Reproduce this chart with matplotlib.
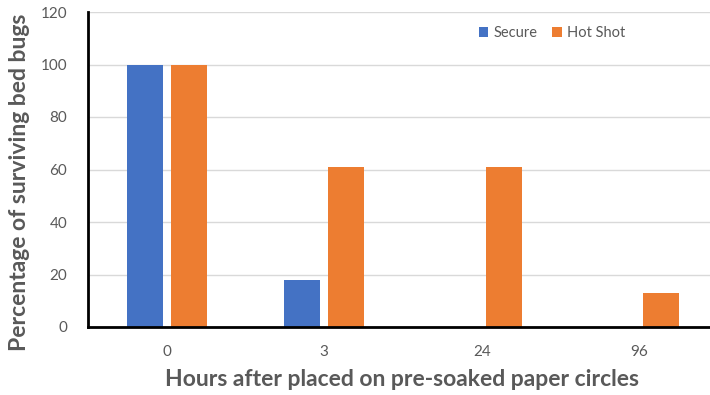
import matplotlib
matplotlib.use("Agg")
import matplotlib.pyplot as plt
import numpy as np

categories = ["0", "3", "24", "96"]
secure = [100, 18, 0, 0]
hot_shot = [100, 61, 61, 13]
yticks = [0, 20, 40, 60, 80, 100, 120]

plt.rcParams['font.family'] = ['Lato', 'DejaVu Sans']

W, H = 710, 395
fig = plt.figure(figsize=(W/100, H/100), dpi=100)
left, right, bottom, top = 88, 718, 327, 12
aw, ah = right - left, bottom - top
ax = fig.add_axes([left/W, 1 - bottom/H, aw/W, ah/H])

x = np.arange(len(categories))
bw = 0.228
off = 0.14
ax.bar(x - off, secure, bw, color="#4472C4", label="Secure", zorder=3)
ax.bar(x + off, hot_shot, bw, color="#ED7D31", label="Hot Shot", zorder=3)

ax.set_xlim(-0.5, 3.5)
ax.set_ylim(0, 120)
ax.set_yticks(yticks)
ax.set_xticks(x)
ax.set_xticklabels(categories)
ax.tick_params(axis='both', length=0, labelsize=11, colors="#595959")
ax.tick_params(axis='y', pad=15)
ax.tick_params(axis='x', pad=13)
ax.grid(axis='y', color="#d9d9d9", linewidth=1, zorder=0)
for s in ['top', 'right']:
    ax.spines[s].set_visible(False)
for s in ['left', 'bottom']:
    ax.spines[s].set_linewidth(2)
    ax.spines[s].set_color("black")
    ax.spines[s].set_zorder(4)

ax.set_ylabel("Percentage of surviving bed bugs", fontsize=16.5, fontweight='bold',
              color="#595959", va='center')
ax.yaxis.set_label_coords((20 - left)/aw, (bottom - 182)/ah)
ax.set_xlabel("Hours after placed on pre-soaked paper circles", fontsize=16.5,
              fontweight='bold', color="#595959", va='center')
ax.xaxis.set_label_coords((402 - left)/aw, (bottom - 380)/ah)

leg = ax.legend(loc='center', bbox_to_anchor=((552-left)/aw, (bottom-33)/ah),
                ncol=2, frameon=False, fontsize=10.5, handlelength=0.65, handleheight=0.65,
                handletextpad=0.35, columnspacing=1.0, labelcolor="#595959")

fig.savefig("out.png", dpi=100)
